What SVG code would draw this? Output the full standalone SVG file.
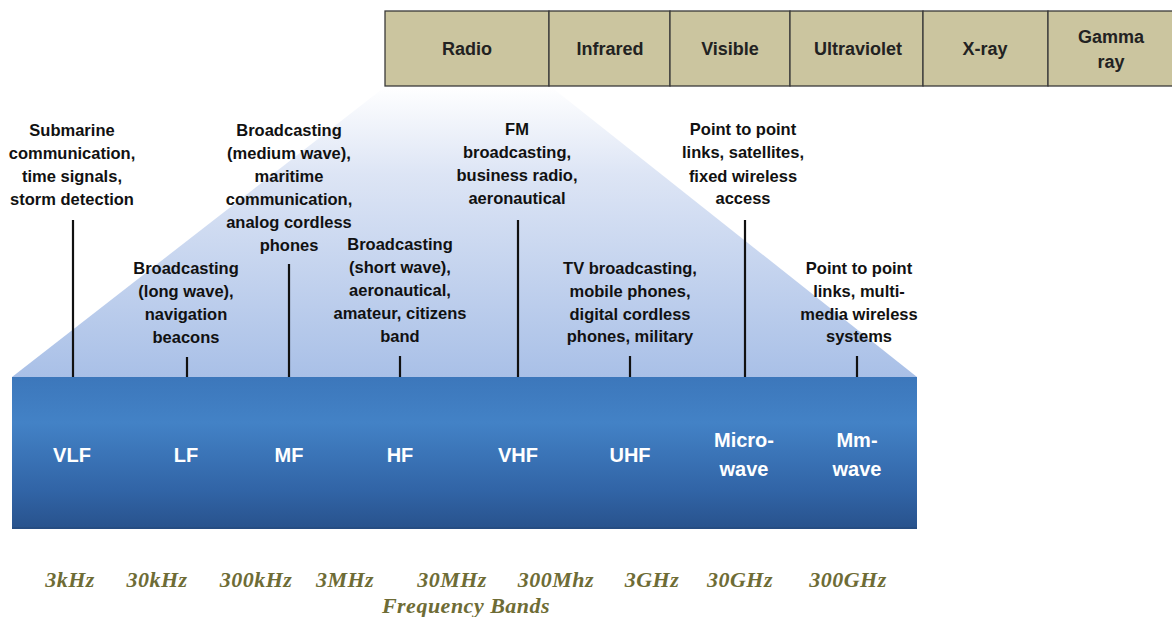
<svg xmlns="http://www.w3.org/2000/svg" width="1172" height="617" viewBox="0 0 1172 617">
<defs>
<linearGradient id="trap" x1="0" y1="0" x2="0" y2="1">
<stop offset="0" stop-color="#ffffff"/>
<stop offset="0.3" stop-color="#dde5f5"/>
<stop offset="1" stop-color="#a9c0e7"/>
</linearGradient>
<linearGradient id="band" x1="0" y1="0" x2="0" y2="1">
<stop offset="0" stop-color="#3c77bb"/>
<stop offset="0.3" stop-color="#4382c6"/>
<stop offset="0.75" stop-color="#3164a6"/>
<stop offset="1" stop-color="#28528c"/>
</linearGradient>
<style>
.box{fill:#cbc59f;stroke:#3a3a3a;stroke-width:1.3}
.bt{font-family:"Liberation Sans",Arial,sans-serif;font-weight:bold;font-size:18px;fill:#222;text-anchor:middle}
.lt{font-family:"Liberation Sans",Arial,sans-serif;font-weight:bold;font-size:16.5px;fill:#111;text-anchor:middle}
.wt{font-family:"Liberation Sans",Arial,sans-serif;font-weight:bold;font-size:20px;fill:#ffffff;text-anchor:middle}
.ft{font-family:"Liberation Serif","Times New Roman",serif;font-style:italic;font-weight:bold;font-size:22px;letter-spacing:0.5px;fill:#6e6c35;text-anchor:middle}
.tick{stroke:#111;stroke-width:2.2}
</style>
</defs>
<rect width="1172" height="617" fill="#ffffff"/>
<polygon points="386,86 550,86 917,377 12,377" fill="url(#trap)"/>
<g id="spectrum">
<g id="radio"><rect class="box" x="385" y="11" width="164" height="75"/><text class="bt" x="467" y="55">Radio</text></g>
<g id="infrared"><rect class="box" x="549" y="11" width="121" height="75"/><text class="bt" x="610" y="55">Infrared</text></g>
<g id="visible"><rect class="box" x="670" y="11" width="120" height="75"/><text class="bt" x="730" y="55">Visible</text></g>
<g id="ultraviolet"><rect class="box" x="790" y="11" width="133" height="75"/><text class="bt" x="858" y="55">Ultraviolet</text></g>
<g id="xray"><rect class="box" x="923" y="11" width="125" height="75"/><text class="bt" x="985" y="55">X-ray</text></g>
<g id="gamma"><rect class="box" x="1048" y="11" width="130" height="75"/><text class="bt" x="1111" y="43">Gamma</text><text class="bt" x="1111" y="68">ray</text></g>
</g>
<g id="bandbar">
<rect x="12" y="377" width="905" height="152" fill="url(#band)"/>
<rect x="12" y="527" width="905" height="2" fill="#24497c" opacity="0.6"/>
</g>
<g id="connectors">
<line class="tick" x1="73" y1="220" x2="73" y2="377"/>
<line class="tick" x1="187" y1="357" x2="187" y2="377"/>
<line class="tick" x1="289" y1="264" x2="289" y2="377"/>
<line class="tick" x1="400" y1="356" x2="400" y2="377"/>
<line class="tick" x1="518" y1="220" x2="518" y2="377"/>
<line class="tick" x1="630" y1="356" x2="630" y2="377"/>
<line class="tick" x1="745" y1="220" x2="745" y2="377"/>
<line class="tick" x1="857" y1="356" x2="857" y2="377"/>
</g>
<g id="vlf">
<text class="lt" x="72" y="136">Submarine</text>
<text class="lt" x="72" y="159">communication,</text>
<text class="lt" x="72" y="182">time signals,</text>
<text class="lt" x="72" y="205">storm detection</text>
<text class="wt" x="72" y="462">VLF</text>
</g>
<g id="lf">
<text class="lt" x="186" y="274">Broadcasting</text>
<text class="lt" x="186" y="297">(long wave),</text>
<text class="lt" x="186" y="320">navigation</text>
<text class="lt" x="186" y="343">beacons</text>
<text class="wt" x="186" y="462">LF</text>
</g>
<g id="mf">
<text class="lt" x="289" y="136">Broadcasting</text>
<text class="lt" x="289" y="159">(medium wave),</text>
<text class="lt" x="289" y="182">maritime</text>
<text class="lt" x="289" y="205">communication,</text>
<text class="lt" x="289" y="228">analog cordless</text>
<text class="lt" x="289" y="251">phones</text>
<text class="wt" x="289" y="462">MF</text>
</g>
<g id="hf">
<text class="lt" x="400" y="250">Broadcasting</text>
<text class="lt" x="400" y="273">(short  wave),</text>
<text class="lt" x="400" y="296">aeronautical,</text>
<text class="lt" x="400" y="319">amateur, citizens</text>
<text class="lt" x="400" y="342">band</text>
<text class="wt" x="400" y="462">HF</text>
</g>
<g id="vhf">
<text class="lt" x="517" y="135">FM</text>
<text class="lt" x="517" y="158">broadcasting,</text>
<text class="lt" x="517" y="181">business radio,</text>
<text class="lt" x="517" y="204">aeronautical</text>
<text class="wt" x="518" y="462">VHF</text>
</g>
<g id="uhf">
<text class="lt" x="630" y="274">TV broadcasting,</text>
<text class="lt" x="630" y="297">mobile phones,</text>
<text class="lt" x="630" y="320">digital cordless</text>
<text class="lt" x="630" y="342">phones, military</text>
<text class="wt" x="630" y="462">UHF</text>
</g>
<g id="microwave">
<text class="lt" x="743" y="135">Point to point</text>
<text class="lt" x="743" y="158">links, satellites,</text>
<text class="lt" x="743" y="182">fixed wireless</text>
<text class="lt" x="743" y="204">access</text>
<text class="wt" x="744" y="447">Micro-</text>
<text class="wt" x="744" y="476">wave</text>
</g>
<g id="mmwave">
<text class="lt" x="859" y="274">Point to point</text>
<text class="lt" x="859" y="297">links, multi-</text>
<text class="lt" x="859" y="320">media wireless</text>
<text class="lt" x="859" y="342">systems</text>
<text class="wt" x="857" y="447">Mm-</text>
<text class="wt" x="857" y="476">wave</text>
</g>
<g id="frequencies">
<text class="ft" x="70" y="587">3kHz</text>
<text class="ft" x="157" y="587">30kHz</text>
<text class="ft" x="256" y="587">300kHz</text>
<text class="ft" x="345" y="587">3MHz</text>
<text class="ft" x="452" y="587">30MHz</text>
<text class="ft" x="556" y="587">300Mhz</text>
<text class="ft" x="652" y="587">3GHz</text>
<text class="ft" x="740" y="587">30GHz</text>
<text class="ft" x="848" y="587">300GHz</text>
<text class="ft" x="466" y="613">Frequency Bands</text>
</g>
</svg>
